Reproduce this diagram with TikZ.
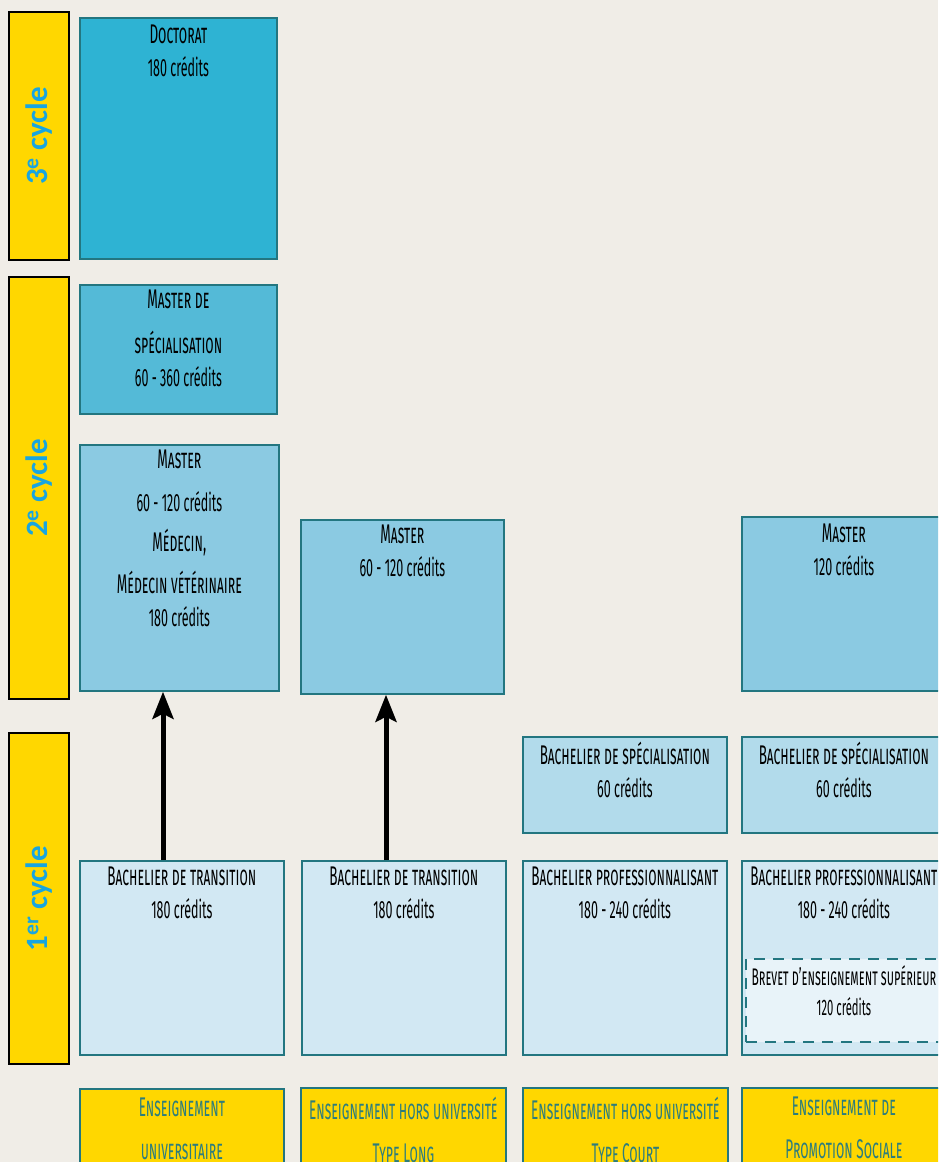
\documentclass[tikz,border=0pt]{standalone}
\usepackage{fontspec}
\usetikzlibrary{arrows.meta}
\newfontfamily\boitefont{Fira Sans}[FakeStretch=0.5]
\newfontfamily\cyclefont{Carlito}
\newcommand\cred[1]{{\upshape\fontsize{25}{33}\selectfont #1}}
\definecolor{fond}{RGB}{240,237,231}
\definecolor{jaune}{RGB}{255,215,0}
\definecolor{bord}{RGB}{35,118,128}
\definecolor{doct}{RGB}{46,179,211}
\definecolor{mspec}{RGB}{84,186,215}
\definecolor{mast}{RGB}{139,202,226}
\definecolor{bspec}{RGB}{178,219,235}
\definecolor{bach}{RGB}{210,232,243}
\definecolor{brevet}{RGB}{232,243,249}
\definecolor{bleucycle}{RGB}{24,165,224}
\definecolor{sarcelle}{RGB}{45,125,125}

\begin{document}
\begin{tikzpicture}[x=1pt,y=-1pt,
  cyclebar/.style={draw=black,line width=1.2pt,fill=jaune,inner sep=0pt,minimum width=60pt},
  cyclelabel/.style={font=\cyclefont\bfseries\fontsize{31}{31}\selectfont,text=bleucycle,rotate=90},
  boite/.style={draw=bord,line width=1.8pt,anchor=north west,inner sep=0pt},
  legende/.style={font=\boitefont\scshape\fontsize{27}{33}\selectfont,align=center,anchor=north,inner sep=0pt},
  fleche/.style={line width=5pt,-{Stealth[length=27pt,width=21pt,inset=5pt]}}]
  %FOND
  \useasboundingbox (0,0) rectangle (938,1162);
  \fill[fond] (0,0) rectangle (938,1162);
  \clip (0,0) rectangle (938,1162);

  %CYCLES
  \node[cyclebar,minimum height=248pt] (c3) at (39,136) {};
  \node[cyclebar,minimum height=422pt] (c2) at (39,488) {};
  \node[cyclebar,minimum height=331pt] (c1) at (39,898.5) {};
  \node[cyclelabel] (l3) at (c3) {3\textsuperscript{e} cycle};
  \node[cyclelabel] (l2) at (c2) {2\textsuperscript{e} cycle};
  \node[cyclelabel] (l1) at (c1) {1\textsuperscript{er} cycle};

  %3e CYCLE
  \node[boite,fill=doct,minimum width=197pt,minimum height=241pt] (doc) at (79,17) {};
  \node[legende] (doc-t) at ([yshift=-8pt]doc.north) {Doctorat\\\cred{180 crédits}};

  %2e CYCLE
  \node[boite,fill=mspec,minimum width=197pt,minimum height=129pt] (msp) at (79,284) {};
  \node[legende] (msp-t) at ([yshift=-6pt]msp.north) {Master de\\[12pt]spécialisation\\\cred{60 - 360 crédits}};
  \node[boite,fill=mast,minimum width=199pt,minimum height=246pt] (ma1) at (79,444) {};
  \node[legende] (ma1-t) at ([yshift=-6pt]ma1.north) {Master\\[10pt]\cred{60 - 120 crédits}\\[7pt]Médecin,\\[9pt]Médecin vétérinaire\\\cred{180 crédits}};
  \node[boite,fill=mast,minimum width=203pt,minimum height=174pt] (ma2) at (300,519) {};
  \node[legende] (ma2-t) at ([yshift=-6pt]ma2.north) {Master\\\cred{60 - 120 crédits}};
  \node[boite,fill=mast,minimum width=204pt,minimum height=174pt] (ma4) at (741,516) {};
  \node[legende] (ma4-t) at ([yshift=-8pt]ma4.north) {Master\\\cred{120 crédits}};

  %1er CYCLE
  \node[boite,fill=bspec,minimum width=204pt,minimum height=96pt] (bs3) at (522,736) {};
  \node[legende] (bs3-t) at ([yshift=-6pt]bs3.north) {Bachelier de spécialisation\\\cred{60 crédits}};
  \node[boite,fill=bspec,minimum width=204pt,minimum height=96pt] (bs4) at (741,736) {};
  \node[legende] (bs4-t) at ([yshift=-6pt]bs4.north) {Bachelier de spécialisation\\\cred{60 crédits}};
  \node[boite,fill=bach,minimum width=204pt,minimum height=194pt] (bt1) at (79,860) {};
  \node[legende] (bt1-t) at ([yshift=-7pt]bt1.north) {Bachelier de transition\\\cred{180 crédits}};
  \node[boite,fill=bach,minimum width=204pt,minimum height=194pt] (bt2) at (301,860) {};
  \node[legende] (bt2-t) at ([yshift=-7pt]bt2.north) {Bachelier de transition\\\cred{180 crédits}};
  \node[boite,fill=bach,minimum width=204pt,minimum height=194pt] (bp3) at (522,860) {};
  \node[legende] (bp3-t) at ([yshift=-7pt]bp3.north) {Bachelier professionnalisant\\\cred{180 - 240 crédits}};
  \node[boite,fill=bach,minimum width=204pt,minimum height=194pt] (bp4) at (741,860) {};
  \node[legende] (bp4-t) at ([yshift=-7pt]bp4.north) {Bachelier professionnalisant\\\cred{180 - 240 crédits}};
  \node[boite,fill=brevet,dash pattern=on 11pt off 8pt,minimum width=196pt,minimum height=83pt] (bes) at (745,958) {};
  \node[legende,font=\boitefont\scshape\fontsize{24}{30}\selectfont] (bes-t) at ([yshift=-7pt]bes.north) {Brevet d’enseignement supérieur\\{\upshape\fontsize{22.5}{30}\selectfont 120 crédits}};

  %PASSERELLES
  \draw[fleche] ([xshift=84pt]bt1.north west) -- ([xshift=84pt]ma1.south west);
  \draw[fleche] ([xshift=85pt]bt2.north west) -- ([xshift=86pt]ma2.south west);

  %TYPES D'ENSEIGNEMENT
  \node[boite,fill=jaune,minimum width=204pt,minimum height=120pt] (en1) at (79,1088) {};
  \node[legende,text=sarcelle] (en1-t) at ([yshift=-10pt]en1.north) {Enseignement\\[10pt]universitaire};
  \node[boite,fill=jaune,minimum width=205pt,minimum height=120pt] (en2) at (300,1087) {};
  \node[legende,text=sarcelle] (en2-t) at ([yshift=-10pt]en2.north) {Enseignement hors université\\[10pt]Type Long};
  \node[boite,fill=jaune,minimum width=205pt,minimum height=120pt] (en3) at (522,1087) {};
  \node[legende,text=sarcelle] (en3-t) at ([yshift=-10pt]en3.north) {Enseignement hors université\\[10pt]Type Court};
  \node[boite,fill=jaune,minimum width=204pt,minimum height=120pt] (en4) at (741,1087) {};
  \node[legende,text=sarcelle] (en4-t) at ([yshift=-10pt]en4.north) {Enseignement de\\[10pt]Promotion Sociale};
\end{tikzpicture}
\end{document}
